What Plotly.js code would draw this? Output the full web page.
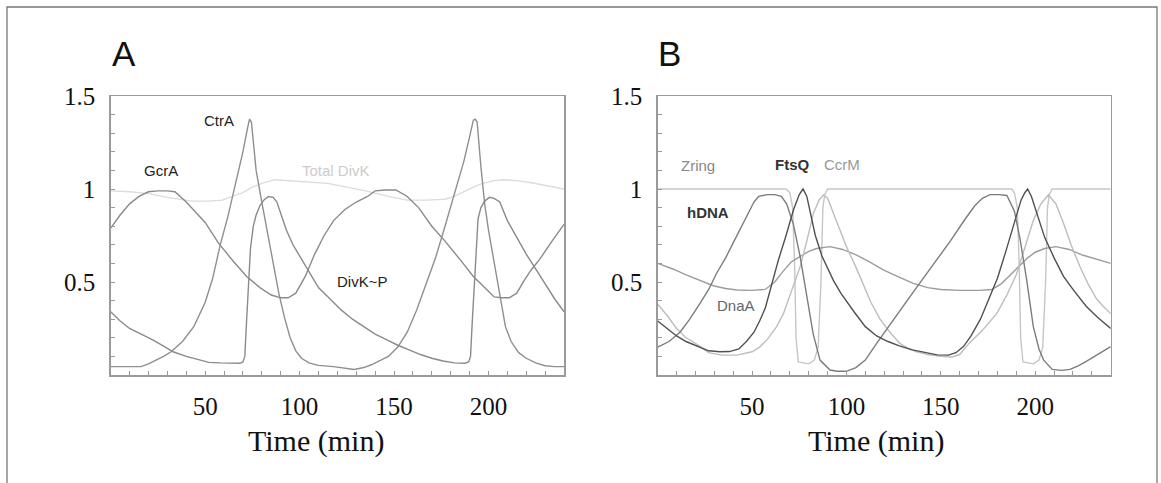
<!DOCTYPE html>
<html>
<head>
<meta charset="utf-8">
<script src="https://cdn.plot.ly/plotly-3.0.1.min.js"></script>
<style>html,body{margin:0;padding:0;background:#fff;}#chart{width:1161px;height:483px;}</style>
</head>
<body>
<div id="chart"></div>
<script>
// ---------- Panel A data ----------
const gcraT = [0, 5, 10, 15, 20, 25, 30, 34, 40, 50, 57, 65, 72, 79, 85, 90, 94, 98, 103, 108, 113, 118, 124, 130, 136, 140, 145, 151, 157, 163, 170, 177, 185, 192, 198, 203, 207, 211, 215, 219, 223, 227, 233, 240];
const gcraV = [0.79, 0.86, 0.92, 0.96, 0.985, 0.99, 0.99, 0.985, 0.93, 0.82, 0.71, 0.61, 0.53, 0.47, 0.43, 0.415, 0.415, 0.44, 0.53, 0.65, 0.75, 0.83, 0.89, 0.93, 0.96, 0.99, 0.995, 0.995, 0.96, 0.9, 0.8, 0.72, 0.62, 0.53, 0.47, 0.42, 0.415, 0.415, 0.44, 0.51, 0.57, 0.62, 0.71, 0.81];

const ctraT = [0, 10, 16, 20, 24, 28, 32, 38, 44, 50, 54, 58, 62, 66, 70, 72.5, 73.5, 74.5, 77, 80, 83, 86, 89, 92, 95, 98, 101, 105, 110, 118, 124, 129, 134, 138, 142, 147, 152, 157, 162, 167, 172, 177, 182, 187, 190, 192, 193, 194, 196, 198, 200, 203, 206, 209, 212, 216, 220, 225, 230, 235, 240];
const ctraV = [0.045, 0.045, 0.045, 0.06, 0.08, 0.1, 0.125, 0.18, 0.26, 0.39, 0.52, 0.7, 0.85, 1.02, 1.2, 1.33, 1.375, 1.36, 1.1, 0.93, 0.76, 0.59, 0.44, 0.31, 0.2, 0.13, 0.09, 0.065, 0.052, 0.045, 0.035, 0.03, 0.04, 0.055, 0.075, 0.1, 0.15, 0.23, 0.35, 0.49, 0.63, 0.8, 0.97, 1.15, 1.28, 1.37, 1.375, 1.36, 1.12, 0.92, 0.78, 0.6, 0.42, 0.26, 0.18, 0.12, 0.09, 0.065, 0.05, 0.045, 0.045];

const divkpT = [0, 5, 10, 16, 22, 28, 33, 40, 46, 52, 58, 64, 68.5, 70, 71, 72, 73, 74, 75.5, 77, 79, 81, 83.5, 86, 88, 90, 93, 96.5, 100, 105, 110, 116, 122, 128, 134, 140, 146, 152, 158, 164, 170, 176, 182, 187.5, 189.5, 190.5, 191.5, 192.5, 193.5, 194.5, 196, 198, 200.5, 203, 206, 208, 210, 215, 220, 225, 230, 235, 240];
const divkpV = [0.34, 0.29, 0.25, 0.22, 0.19, 0.155, 0.125, 0.1, 0.082, 0.068, 0.065, 0.063, 0.063, 0.07, 0.1, 0.3, 0.5, 0.68, 0.8, 0.86, 0.91, 0.94, 0.96, 0.955, 0.93, 0.87, 0.78, 0.7, 0.64, 0.55, 0.47, 0.41, 0.35, 0.3, 0.26, 0.22, 0.19, 0.16, 0.135, 0.11, 0.09, 0.075, 0.065, 0.063, 0.07, 0.1, 0.3, 0.5, 0.7, 0.84, 0.9, 0.935, 0.955, 0.95, 0.93, 0.88, 0.83, 0.74, 0.65, 0.57, 0.49, 0.41, 0.34];

const divkTotT = [0, 10, 20, 30, 43, 52, 59, 65, 70, 75, 80, 87, 95, 105, 115, 125, 135, 147, 157, 167, 177, 182, 187, 192, 197, 203, 208, 215, 222, 230, 240];
const divkTotV = [0.99, 0.985, 0.975, 0.955, 0.935, 0.935, 0.94, 0.96, 0.98, 1.01, 1.03, 1.05, 1.045, 1.04, 1.03, 1.01, 0.99, 0.96, 0.94, 0.94, 0.945, 0.96, 0.985, 1.01, 1.03, 1.045, 1.05, 1.045, 1.035, 1.02, 1.0];

// ---------- Panel B data ----------
const zringT = [0, 68, 70, 71.5, 72.5, 73.3, 74.5, 80, 83, 85, 86.5, 87.5, 88.5, 90, 187.5, 189, 190.5, 191.5, 192.3, 193.5, 199, 202, 204, 205.5, 206.5, 207.5, 209, 240];
const zringV = [1, 1, 0.98, 0.9, 0.6, 0.2, 0.07, 0.06, 0.08, 0.15, 0.5, 0.9, 0.97, 1, 1, 0.98, 0.9, 0.6, 0.2, 0.07, 0.06, 0.08, 0.15, 0.5, 0.9, 0.97, 1, 1];

const ftsqT = [0, 5, 10, 15, 20, 27, 33, 38, 43, 47, 51, 54, 57, 60, 64, 68, 72, 75, 77, 79, 81, 83.5, 87, 90, 93, 97, 101, 104, 110, 116, 122, 128, 135, 142, 148, 154, 158, 162, 166, 171, 175, 180, 184, 187, 190, 192.5, 194.5, 196, 198, 201, 205, 210, 215, 220, 227, 233, 240];
const ftsqV = [0.29, 0.25, 0.21, 0.18, 0.16, 0.13, 0.125, 0.126, 0.14, 0.18, 0.23, 0.29, 0.36, 0.47, 0.62, 0.75, 0.89, 0.97, 1.0, 0.96, 0.86, 0.75, 0.64, 0.57, 0.51, 0.44, 0.38, 0.34, 0.26, 0.21, 0.18, 0.157, 0.135, 0.12, 0.108, 0.107, 0.12, 0.153, 0.21, 0.3, 0.4, 0.52, 0.65, 0.75, 0.86, 0.94, 0.98, 1.0, 0.96, 0.86, 0.74, 0.63, 0.53, 0.46, 0.37, 0.31, 0.25];

const ccrmT = [0, 5, 10, 15, 20, 27, 34, 42, 50, 54, 58, 63, 66.6, 71, 75.4, 79, 82.5, 85.5, 87.7, 90, 93, 96.5, 100, 105, 109, 113, 117.8, 123, 128.3, 133, 137.2, 143, 150, 156, 160, 165, 172, 179.6, 185, 190, 195, 199, 203, 207, 211, 215, 219, 223.7, 228, 232.5, 236, 240];
const ccrmV = [0.38, 0.32, 0.25, 0.2, 0.17, 0.12, 0.107, 0.107, 0.125, 0.15, 0.19, 0.26, 0.33, 0.46, 0.58, 0.72, 0.87, 0.94, 0.968, 0.95, 0.87, 0.78, 0.69, 0.58, 0.48, 0.39, 0.3, 0.23, 0.17, 0.14, 0.124, 0.11, 0.1, 0.097, 0.11, 0.17, 0.24, 0.33, 0.43, 0.54, 0.7, 0.83, 0.92, 0.968, 0.92, 0.816, 0.7, 0.583, 0.49, 0.41, 0.37, 0.33];

const hdnaT = [0, 6, 11.8, 17, 22.4, 27, 31.2, 36, 40, 44, 48, 51, 53.5, 58, 62, 65.5, 68.3, 71.9, 75.4, 78.9, 82.4, 86, 91.3, 95, 100, 105, 110, 116, 125, 135, 145, 155, 163, 168, 172, 176, 181, 185, 189, 192, 195.5, 199, 202, 204.5, 209, 214, 218.5, 223, 227.3, 233, 240];
const hdnaV = [0.15, 0.18, 0.23, 0.3, 0.385, 0.46, 0.547, 0.63, 0.71, 0.79, 0.87, 0.93, 0.96, 0.97, 0.97, 0.96, 0.92, 0.81, 0.64, 0.42, 0.22, 0.08, 0.027, 0.02, 0.02, 0.04, 0.08, 0.17, 0.3, 0.44, 0.58, 0.72, 0.84, 0.91, 0.95, 0.97, 0.97, 0.965, 0.88, 0.73, 0.51, 0.26, 0.14, 0.08, 0.03, 0.025, 0.03, 0.05, 0.075, 0.11, 0.153];

const dnaaT = [0, 8, 15.4, 22, 29.5, 36, 42, 50, 57, 62, 66.6, 71, 75.4, 80, 84.2, 91.3, 98, 105.4, 112, 119.5, 127, 135.4, 143, 150, 160, 170, 177, 182, 186, 192, 196, 200, 205, 211, 218, 225, 232, 240];
const dnaaV = [0.6, 0.57, 0.537, 0.51, 0.48, 0.465, 0.457, 0.455, 0.46, 0.5, 0.56, 0.61, 0.636, 0.665, 0.68, 0.69, 0.675, 0.645, 0.61, 0.565, 0.53, 0.493, 0.47, 0.46, 0.455, 0.455, 0.46, 0.49, 0.53, 0.59, 0.63, 0.66, 0.68, 0.69, 0.675, 0.645, 0.625, 0.6];

// ---------- labels ----------
const xTickVals = [50, 100, 150, 200];
const yTickVals = [0.5, 1, 1.5];
const axisTitle = "Time (min)";
const panelLetters = ["A", "B"];
const labelsA = [
  {text: "GcrA", x: 26.4, y: 1.097, color: "#222", bold: false},
  {text: "CtrA", x: 57.3, y: 1.366, color: "#222", bold: false},
  {text: "Total DivK", x: 119.5, y: 1.097, color: "#cccccc", bold: false},
  {text: "DivK~P", x: 133, y: 0.505, color: "#222", bold: false}
];
const labelsB = [
  {text: "Zring", x: 21.4, y: 1.129, color: "#888", bold: false},
  {text: "FtsQ", x: 71.4, y: 1.134, color: "#333", bold: true},
  {text: "CcrM", x: 97.9, y: 1.134, color: "#999", bold: false},
  {text: "hDNA", x: 26.6, y: 0.871, color: "#333", bold: true},
  {text: "DnaA", x: 41.7, y: 0.371, color: "#666", bold: false}
];

// ---------- build ----------
const W = 1161, H = 483;
function line(x, y, color, ax, width) {
  return {x: x, y: y, type: "scatter", mode: "lines", xaxis: ax[0], yaxis: ax[1],
          line: {color: color, width: width || 1.4}, hoverinfo: "skip"};
}
const A = ["x", "y"], B = ["x2", "y2"];
const traces = [
  line(divkTotT, divkTotV, "#dcdcdc", A),
  line(gcraT, gcraV, "#8a8a8a", A),
  line(ctraT, ctraV, "#8f8f8f", A),
  line(divkpT, divkpV, "#8a8a8a", A),
  line(zringT, zringV, "#c6c6c6", B),
  line(dnaaT, dnaaV, "#9c9c9c", B),
  line(ccrmT, ccrmV, "#bdbdbd", B),
  line(hdnaT, hdnaV, "#7c7c7c", B),
  line(ftsqT, ftsqV, "#505050", B)
];

const tickFont = {family: "Liberation Serif, Times New Roman, serif", size: 25, color: "#111"};
function xAx(domain, anchor) {
  return {domain: domain, anchor: anchor, range: [0, 240], tickvals: xTickVals, ticks: "inside", ticklen: 4,
          tickcolor: "#999", tickwidth: 1, showline: true, mirror: true, linecolor: "#9a9a9a", linewidth: 1.5,
          showgrid: false, zeroline: false, tickfont: tickFont, ticklabelstandoff: 8,
          minor: {dtick: 10, ticks: "inside", ticklen: 4, tickcolor: "#999", tickwidth: 1, showgrid: false}};
}
function yAx(domain, anchor) {
  return {domain: domain, anchor: anchor, range: [0, 1.5], tickvals: yTickVals, ticks: "inside", ticklen: 4,
          tickcolor: "#999", tickwidth: 1, showline: true, mirror: true, linecolor: "#9a9a9a", linewidth: 1.5,
          showgrid: false, zeroline: false, tickfont: tickFont, ticklabelstandoff: 9,
          minor: {dtick: 0.1, ticks: "inside", ticklen: 4, tickcolor: "#999", tickwidth: 1, showgrid: false}};
}
const yDom = [1 - 375 / H, 1 - 96 / H];
const annotations = [];
function curveLabels(list, xr, yr) {
  list.forEach(l => annotations.push({
    text: l.bold ? "<b>" + l.text + "</b>" : l.text, x: l.x, y: l.y, xref: xr, yref: yr,
    showarrow: false, xanchor: "center", yanchor: "middle",
    font: {family: "Liberation Sans, Arial, sans-serif", size: 15, color: l.color}
  }));
}
curveLabels(labelsA, "x", "y");
curveLabels(labelsB, "x2", "y2");
[[panelLetters[0], 110], [panelLetters[1], 656]].forEach(p => annotations.push({
  text: p[0], x: p[1] / W, y: 1 - 54 / H, xref: "paper", yref: "paper", showarrow: false,
  xanchor: "left", yanchor: "middle", font: {family: "Liberation Sans, Arial, sans-serif", size: 35, color: "#111"}
}));
[316, 876].forEach(cx => annotations.push({
  text: axisTitle, x: cx / W, y: 1 - 441 / H, xref: "paper", yref: "paper", showarrow: false,
  xanchor: "center", yanchor: "middle", font: {family: "Liberation Serif, Times New Roman, serif", size: 30, color: "#111"}
}));

const layout = {
  width: W, height: H, margin: {l: 0, r: 0, t: 0, b: 0}, paper_bgcolor: "#fff", plot_bgcolor: "#fff",
  showlegend: false, hovermode: false,
  xaxis: xAx([110.7 / W, 564 / W], "y"),
  yaxis: yAx(yDom, "x"),
  xaxis2: xAx([657.7 / W, 1110.7 / W], "y2"),
  yaxis2: yAx(yDom, "x2"),
  annotations: annotations,
  shapes: [{type: "rect", xref: "paper", yref: "paper", x0: 7 / W, x1: 1157 / W, y0: -0.1, y1: 1 - 7 / H,
            line: {color: "#777", width: 1.3}, fillcolor: "rgba(0,0,0,0)"}]
};
Plotly.newPlot("chart", traces, layout, {staticPlot: true, displayModeBar: false});
</script>
</body>
</html>
